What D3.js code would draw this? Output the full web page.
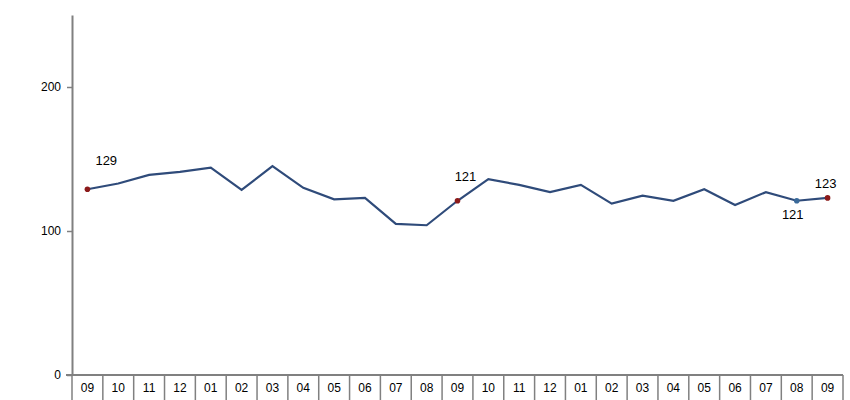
<!DOCTYPE html>
<html>
<head>
<meta charset="utf-8">
<script src="https://cdn.jsdelivr.net/npm/d3@7"></script>
<style>
  body { margin: 0; background: #fff; }
  text { font-family: "Liberation Sans", Arial, sans-serif; }
</style>
</head>
<body>
<div id="chart"></div>
<script>
// month labels along the bottom
const months = ["09","10","11","12","01","02","03","04","05","06","07","08",
                "09","10","11","12","01","02","03","04","05","06","07","08","09"];

// index values
const values = [129, 133, 139, 141, 144, 128.5, 145, 130, 122, 123, 105, 104,
                121, 136, 132, 127, 132, 119, 124.5, 121, 129, 118, 127, 121, 123];

// y ticks
const yTicks = [0, 100, 200];

// labelled points: index and text
const labelIdx = [0, 12, 23, 24];
const labelText = ["129", "121", "121", "123"];

const width = 850;
const height = 400;
const margin = { top: 15, right: 7, bottom: 24, left: 72 };

// label offsets from their point (dx, dy to baseline)
const labelOffset = {
    0: [8, -24],
    12: [8, -20],
    23: [-4, 18],
    24: [-2, -10]
};

const svg = d3.select("#chart")
.append("svg")
.attr("width", width)
.attr("height", height);

// band scale for the month cells, point position is the band centre
const x = d3.scaleBand()
.domain(d3.range(months.length))
.range([margin.left, width - margin.right])
.padding(0);

const y = d3.scaleLinear()
.domain([0, 250])
.range([height - margin.bottom - 1, margin.top]);

const cx = i => x(i) + x.bandwidth() / 2;

// y axis
const yAxis = d3.axisLeft(y)
.tickValues(yTicks)
.tickSize(5)
.tickSizeOuter(0)
.tickPadding(6);

const gy = svg.append("g")
.attr("transform", `translate(${margin.left},0)`)
.call(yAxis);

gy.select(".domain").attr("stroke", "#808080").attr("stroke-width", 2);
gy.selectAll(".tick line").attr("stroke", "#808080").attr("stroke-width", 1.5);
gy.selectAll(".tick text")
.attr("font-size", 12)
.attr("fill", "#000");

// x axis baseline with cell separators
const gx = svg.append("g")
.attr("transform", `translate(0,${y(0)})`);

gx.append("line")
.attr("x1", margin.left - 6)
.attr("x2", width - margin.right)
.attr("stroke", "#808080")
.attr("stroke-width", 2);

gx.selectAll("line.sep")
.data(d3.range(months.length + 1))
.enter()
.append("line")
.attr("class", "sep")
.attr("x1", i => i < months.length ? x(i) : x(i - 1) + x.bandwidth())
.attr("x2", i => i < months.length ? x(i) : x(i - 1) + x.bandwidth())
.attr("y1", 0)
.attr("y2", height)
.attr("stroke", "#808080")
.attr("stroke-width", 1.5);

gx.selectAll("text")
.data(months)
.enter()
.append("text")
.attr("x", (d, i) => cx(i))
.attr("y", 17)
.attr("text-anchor", "middle")
.attr("font-size", 12)
.attr("fill", "#000")
.text(d => d);

// the series line
const line = d3.line()
.x((d, i) => cx(i))
.y(d => y(d));

svg.append("path")
.datum(values)
.attr("fill", "none")
.attr("stroke", "#2f4b7a")
.attr("stroke-width", 2.2)
.attr("d", line);

// markers: red for the September points, blue for the last-but-one
svg.selectAll("circle")
.data(labelIdx)
.enter()
.append("circle")
.attr("cx", i => cx(i))
.attr("cy", i => y(values[i]))
.attr("r", 2.8)
.attr("fill", i => i === 23 ? "#3a6a9a" : "#8b1a1a");

// value labels
svg.selectAll("text.val")
.data(labelIdx)
.enter()
.append("text")
.attr("class", "val")
.attr("x", i => cx(i) + labelOffset[i][0])
.attr("y", i => y(values[i]) + labelOffset[i][1])
.attr("text-anchor", i => i === 0 ? "start" : "middle")
.attr("font-size", 13)
.attr("fill", "#000")
.text((i, k) => labelText[k]);
</script>
</body>
</html>
